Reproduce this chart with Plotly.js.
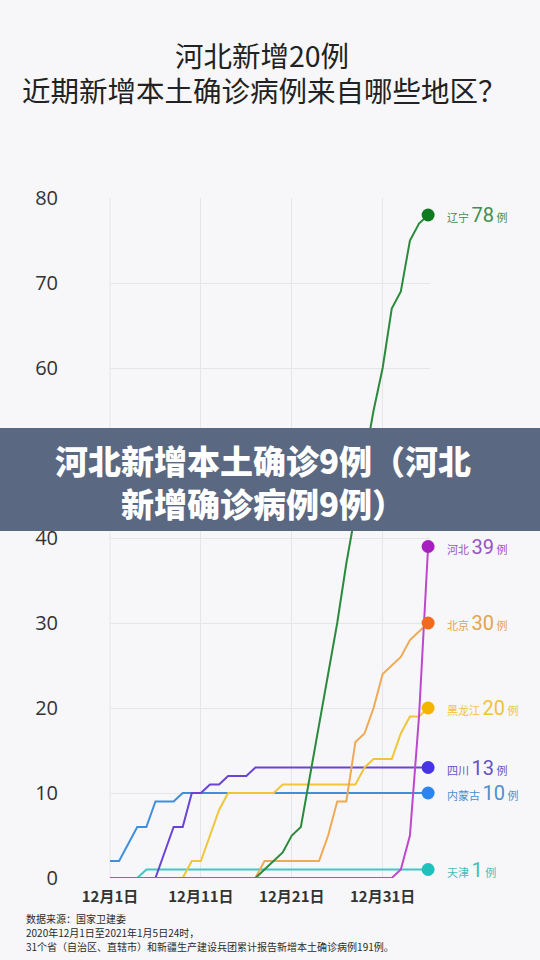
<!DOCTYPE html>
<html>
<head>
<meta charset="utf-8">
<script src="https://cdn.plot.ly/plotly-3.0.1.min.js"></script>
<style>
html,body{margin:0;padding:0;background:#f7f7f9;}
#chart{width:540px;height:960px;}
</style>
</head>
<body>
<div id="chart"></div>
<script>
// ---- data ----
const dates = [
  '2020-12-01','2020-12-02','2020-12-03','2020-12-04','2020-12-05','2020-12-06','2020-12-07','2020-12-08','2020-12-09','2020-12-10',
  '2020-12-11','2020-12-12','2020-12-13','2020-12-14','2020-12-15','2020-12-16','2020-12-17','2020-12-18','2020-12-19','2020-12-20',
  '2020-12-21','2020-12-22','2020-12-23','2020-12-24','2020-12-25','2020-12-26','2020-12-27','2020-12-28','2020-12-29','2020-12-30',
  '2020-12-31','2021-01-01','2021-01-02','2021-01-03','2021-01-04','2021-01-05'
];
const tickDates = ['2020-12-01','2020-12-11','2020-12-21','2020-12-31'];
const tickLabels = ['12月1日','12月11日','12月21日','12月31日'];
const yTicks = [0,10,20,30,40,50,60,70,80];

const regionNames = ['天津','内蒙古','四川','黑龙江','北京','辽宁','河北'];

const tianjin      = [0,0,0,0,1,1,1,1,1,1,1,1,1,1,1,1,1,1,1,1,1,1,1,1,1,1,1,1,1,1,1,1,1,1,1,1];
const neimenggu    = [2,2,4,6,6,9,9,9,10,10,10,10,10,10,10,10,10,10,10,10,10,10,10,10,10,10,10,10,10,10,10,10,10,10,10,10];
const sichuan      = [0,0,0,0,0,0,3,6,6,10,10,11,11,12,12,12,13,13,13,13,13,13,13,13,13,13,13,13,13,13,13,13,13,13,13,13];
const heilongjiang = [0,0,0,0,0,0,0,0,0,2,2,5,8,10,10,10,10,10,10,11,11,11,11,11,11,11,11,11,13,14,14,14,17,19,19,20];
const beijing      = [0,0,0,0,0,0,0,0,0,0,0,0,0,0,0,0,0,2,2,2,2,2,2,2,5,9,9,16,17,20,24,25,26,28,29,30];
const liaoning     = [0,0,0,0,0,0,0,0,0,0,0,0,0,0,0,0,0,1,2,3,5,6,12,18,24,30,37,43,49,55,60,67,69,75,77,78];
const hebei        = [0,0,0,0,0,0,0,0,0,0,0,0,0,0,0,0,0,0,0,0,0,0,0,0,0,0,0,0,0,0,0,0,1,5,19,39];

const titleLine1 = '河北新增20例';
const titleLine2 = '近期新增本土确诊病例来自哪些地区？';
const bannerText = '河北新增本土确诊9例（河北<br>新增确诊病例9例）';
const sourceLines = [
  '数据来源：国家卫建委',
  '2020年12月1日至2021年1月5日24时，',
  '31个省（自治区、直辖市）和新疆生产建设兵团累计报告新增本土确诊病例191例。'
];

// ---- styles ----
const seriesList = [tianjin, neimenggu, sichuan, heilongjiang, beijing, liaoning, hebei];
const lineColors   = ['#3cc9c6','#3f8fdc','#6a43d6','#f0c53a','#f0a955','#2b8a3c','#be48cc'];
const markerColors = ['#1fc1bd','#2a86ee','#4634e6','#f5b400','#f26a1c','#0f7a1f','#a81fc0'];
const labelColors  = ['#45bdb9','#4b8fd2','#6652c4','#f0c23a','#e5a34a','#3d8f4a','#9a52c4'];

const traces = [];
seriesList.forEach((vals, i) => {
  traces.push({
    type: 'scatter', mode: 'lines', x: dates, y: vals,
    line: {color: lineColors[i], width: 2},
    cliponaxis: false, hoverinfo: 'skip', showlegend: false
  });
});
seriesList.forEach((vals, i) => {
  const last = vals.length - 1;
  traces.push({
    type: 'scatter', mode: 'markers', x: [dates[last]], y: [vals[last]],
    marker: {color: markerColors[i], size: 13},
    cliponaxis: false, hoverinfo: 'skip', showlegend: false
  });
});

const fam = '"Noto Sans CJK SC", "Noto Sans", sans-serif';

const annotations = seriesList.map((vals, i) => {
  const last = vals.length - 1;
  return {
    xref: 'x', yref: 'y', x: dates[last], y: vals[last],
    xanchor: 'left', yanchor: 'middle', xshift: 17, showarrow: false,
    text: '<span style="font-size:11px">' + regionNames[i] + '</span> <span style="font-size:20px;font-family:' + "'Liberation Sans Narrow', Roboto" + '">' + vals[last] + '</span> <span style="font-size:11px">例</span>',
    font: {family: fam, size: 11, color: labelColors[i]}
  };
});

// plot pixel geometry: left 110, right 430, top 198, bottom 878
const pTop = 198, pBot = 878, pL = 110, pR = 430;
const py = p => (pBot - p) / (pBot - pTop);
const px = p => (p - pL) / (pR - pL);

annotations.push({
  xref: 'paper', yref: 'paper', x: px(264), y: py(90), xanchor: 'center', yanchor: 'middle',
  showarrow: false, text: titleLine2,
  font: {family: fam, size: 28.5, color: '#222222'}
});
annotations.push({
  xref: 'paper', yref: 'paper', x: px(263), y: py(481), xanchor: 'center', yanchor: 'middle',
  showarrow: false, text: bannerText,
  font: {family: fam, size: 33, color: '#ffffff', weight: 900}
});
const sourceY = [918, 932, 946];
sourceLines.forEach((t, i) => {
  annotations.push({
    xref: 'paper', yref: 'paper', x: px(24), y: py(sourceY[i]), xanchor: 'left', yanchor: 'middle', align: 'left',
    showarrow: false, text: t,
    font: {family: fam, size: 10, color: '#2a2a2a'}
  });
});

const layout = {
  width: 540, height: 960,
  paper_bgcolor: '#f7f7f9', plot_bgcolor: '#f7f7f9',
  margin: {l: pL, r: 540 - pR, t: pTop, b: 960 - pBot},
  title: {
    text: titleLine1, x: 262/540, xanchor: 'center', xref: 'container',
    y: 1 - 57/960, yanchor: 'middle', yref: 'container',
    font: {family: fam, size: 28.5, color: '#222222'}
  },
  xaxis: {
    type: 'date', range: ['2020-12-01', '2021-01-05 05:00'],
    tickvals: tickDates, ticktext: tickLabels,
    showgrid: true, gridcolor: '#e6e6ea', gridwidth: 1,
    zeroline: false, showline: false,
    ticks: 'outside', ticklen: 5, tickcolor: 'rgba(0,0,0,0)',
    tickfont: {family: fam, size: 15, color: '#333333', weight: 600}
  },
  yaxis: {
    range: [0, 80], tickvals: yTicks,
    showgrid: true, gridcolor: '#e6e6ea', gridwidth: 1,
    zeroline: false, showline: false,
    ticks: 'outside', ticklen: 47, tickcolor: 'rgba(0,0,0,0)',
    tickfont: {family: '"Open Sans", "Noto Sans", sans-serif', size: 20, color: '#333333'}
  },
  shapes: [
    {type: 'line', xref: 'paper', yref: 'paper', x0: 0, x1: 0, y0: 0, y1: 1, line: {color: '#e6e6ea', width: 1}, layer: 'below'},
    {type: 'rect', xref: 'paper', yref: 'paper', x0: px(0), x1: px(540), y0: py(531), y1: py(428),
     fillcolor: 'rgb(90,104,130)', line: {width: 0}, layer: 'above'}
  ],
  annotations: annotations
};

Plotly.newPlot('chart', traces, layout, {displayModeBar: false, staticPlot: true});
</script>
</body>
</html>
